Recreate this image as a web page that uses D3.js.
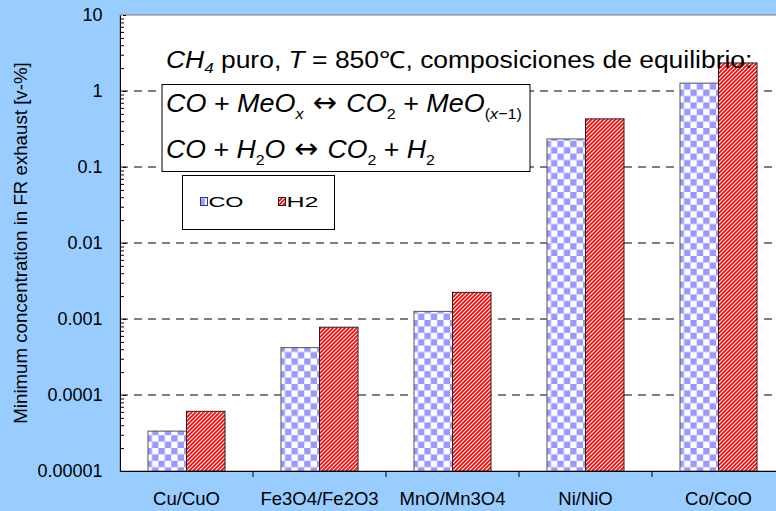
<!DOCTYPE html>
<html>
<head>
<meta charset="utf-8">
<script src="https://cdn.jsdelivr.net/npm/d3@7"></script>
<style>
  html, body { margin: 0; padding: 0; background: #99CCFF; overflow: hidden; }
  svg { display: block; font-family: Arial, "Liberation Sans", sans-serif; }
</style>
</head>
<body>
<svg id="chart" width="776" height="511"></svg>
<script>
// ---- data ----
const categories = ["Cu/CuO", "Fe3O4/Fe2O3", "MnO/Mn3O4", "Ni/NiO", "Co/CoO"];
const seriesNames = ["CO", "H2"];
const coValues = [3.35e-5, 4.2e-4, 1.26e-3, 0.234, 1.27];
const h2Values = [6.1e-5, 7.8e-4, 2.24e-3, 0.43, 2.34];
const yTickValues = [1e-5, 1e-4, 1e-3, 1e-2, 1e-1, 1, 10];
const yTickLabels = ["0.00001", "0.0001", "0.001", "0.01", "0.1", "1", "10"];
const gridValues = [1e-4, 1e-3, 1e-2, 1e-1, 1];

const FONT = "Arial, 'Liberation Sans', sans-serif";
const plot = { left: 120, top: 15, right: 785, bottom: 471 };

const svg = d3.select("#chart");
const defs = svg.append("defs");

// checker pattern (CO)
const chk = defs.append("pattern").attr("id", "checker")
  .attr("patternUnits", "userSpaceOnUse").attr("width", 12.8).attr("height", 12.8);
chk.append("rect").attr("width", 12.8).attr("height", 12.8).attr("fill", "#ffffff");
chk.append("rect").attr("width", 6.4).attr("height", 6.4).attr("fill", "#9999FF");
chk.append("rect").attr("x", 6.4).attr("y", 6.4).attr("width", 6.4).attr("height", 6.4).attr("fill", "#9999FF");

// diagonal stripes (H2)
const str = defs.append("pattern").attr("id", "stripes")
  .attr("patternUnits", "userSpaceOnUse").attr("width", 4).attr("height", 4);
str.append("rect").attr("width", 4).attr("height", 4).attr("fill", "#ffffff");
str.append("path").attr("d", "M-1,1 l2,-2 M0,4 l4,-4 M3,5 l2,-2")
  .attr("stroke", "#ff0000").attr("stroke-width", 1.7);

const fills = { CO: "url(#checker)", H2: "url(#stripes)" };
const strokes = { CO: "#555555", H2: "#222222" };

// plot background
svg.append("rect").attr("x", plot.left).attr("y", plot.top)
  .attr("width", plot.right - plot.left).attr("height", plot.bottom - plot.top)
  .attr("fill", "#ffffff").attr("stroke", "#808080").attr("stroke-width", 1);

// scales
const x0 = d3.scaleBand().domain(categories).range([plot.left, plot.right]).padding(0);
const x1 = d3.scaleBand().domain(seriesNames).range([0, x0.bandwidth()])
  .paddingInner(0).paddingOuter(0.727);
const y = d3.scaleLog().domain([1e-5, 10]).range([plot.bottom, plot.top]);

// gridlines
svg.append("g").selectAll("line").data(gridValues).join("line")
  .attr("x1", plot.left).attr("x2", plot.right)
  .attr("y1", d => y(d)).attr("y2", d => y(d))
  .attr("stroke", "#000").attr("stroke-width", 1).attr("stroke-dasharray", "8,6");

// bars
const rows = categories.map((c, i) => ({ cat: c, values: [
  { s: "CO", v: coValues[i] }, { s: "H2", v: h2Values[i] }] }));
const grp = svg.append("g").selectAll("g").data(rows).join("g")
  .attr("transform", d => `translate(${x0(d.cat)},0)`);
grp.selectAll("rect").data(d => d.values).join("rect")
  .attr("x", d => x1(d.s)).attr("width", x1.bandwidth())
  .attr("y", d => y(d.v)).attr("height", d => plot.bottom - y(d.v))
  .attr("fill", d => fills[d.s]).attr("stroke", d => strokes[d.s]).attr("stroke-width", 1);

// y axis
const minorVals = [];
for (let e = -5; e < 1; e++) for (let m = 2; m <= 9; m++) minorVals.push(m * Math.pow(10, e));
const yMinor = svg.append("g").attr("transform", `translate(${plot.left},0)`)
  .call(d3.axisLeft(y).tickValues(minorVals).tickSizeInner(-4).tickSizeOuter(0).tickFormat(""));
yMinor.select(".domain").remove();
yMinor.selectAll("line").attr("stroke", "#000");
const yAxis = svg.append("g").attr("transform", `translate(${plot.left},0)`)
  .call(d3.axisLeft(y).tickValues(yTickValues).tickSizeInner(-6).tickSizeOuter(0)
    .tickPadding(17.5).tickFormat((d, i) => yTickLabels[i]));
yAxis.selectAll(".tick line").attr("x1", 3).attr("stroke", "#000");
yAxis.select(".domain").attr("stroke", "#000");
yAxis.selectAll("text").attr("font-size", 18).attr("font-family", FONT).attr("fill", "#000");

// x axis
const xAxis = svg.append("g").attr("transform", `translate(0,${plot.bottom})`)
  .call(d3.axisBottom(x0).tickSize(0).tickPadding(21));
xAxis.select(".domain").attr("stroke", "#000");
xAxis.selectAll("text").attr("font-size", 18.5).attr("font-family", FONT).attr("fill", "#000");
svg.append("g").selectAll("line").data(categories.slice(1)).join("line")
  .attr("x1", d => x0(d)).attr("x2", d => x0(d))
  .attr("y1", plot.bottom).attr("y2", plot.bottom + 6).attr("stroke", "#000");

// y axis title
svg.append("text").attr("transform", `translate(27,${(plot.top + plot.bottom) / 2}) rotate(-90)`)
  .attr("text-anchor", "middle").attr("font-size", 18.7).attr("fill", "#000")
  .text("Minimum concentration in FR exhaust [v-%]");

// helper: stretch a text horizontally to a given width from its start x
function fitWidth(sel, x, target) {
  const w = sel.node().getBBox().width;
  if (w > 0) sel.attr("transform", `translate(${x},0) scale(${target / w},1) translate(${-x},0)`);
}

// title
const t = svg.append("text").attr("x", 166).attr("y", 68).attr("font-size", 23.5).attr("fill", "#000");
t.append("tspan").attr("font-style", "italic").text("CH");
t.append("tspan").attr("font-style", "italic").attr("font-size", 15).attr("dy", 5).text("4");
t.append("tspan").attr("dy", -5).text(" puro, ");
t.append("tspan").attr("font-style", "italic").text("T");
t.append("tspan").text(" = 850\u2103, composiciones de equilibrio:");
fitWidth(t, 166, 586);

// equation box
svg.append("rect").attr("x", 162).attr("y", 84.5).attr("width", 368).attr("height", 87)
  .attr("fill", "#fff").attr("stroke", "#000").attr("stroke-width", 1);

function eq(yb, parts, target) {
  const e = svg.append("text").attr("x", 166).attr("y", yb).attr("font-size", 26).attr("fill", "#000");
  let cur = 0;
  parts.forEach(p => {
    const ts = e.append("tspan").text(p.t);
    if (p.i) ts.attr("font-style", "italic");
    if (p.a) ts.attr("font-family", "'DejaVu Sans', sans-serif").attr("font-size", 28);
    const target = p.s ? 7 : 0;
    if (p.s) ts.attr("font-size", 15.5);
    if (target !== cur) { ts.attr("dy", target - cur); cur = target; }
  });
  fitWidth(e, 166, target);
}
eq(112, [
  { t: "CO", i: 1 }, { t: " + " }, { t: "MeO", i: 1 }, { t: "x", i: 1, s: 1 },
  { t: " \u2194 ", a: 1 }, { t: "CO", i: 1 }, { t: "2", s: 1 }, { t: " + " },
  { t: "MeO", i: 1 }, { t: "(", s: 1 }, { t: "x", i: 1, s: 1 }, { t: "\u22121)", s: 1 }
], 356);
eq(158, [
  { t: "CO", i: 1 }, { t: " + " }, { t: "H", i: 1 }, { t: "2", s: 1 }, { t: "O", i: 1 },
  { t: " \u2194 ", a: 1 }, { t: "CO", i: 1 }, { t: "2", s: 1 }, { t: " + " },
  { t: "H", i: 1 }, { t: "2", s: 1 }
], 269);

// legend
const lg = svg.append("g");
lg.append("rect").attr("x", 182.5).attr("y", 175.5).attr("width", 152).attr("height", 54)
  .attr("fill", "#fff").attr("stroke", "#000").attr("stroke-width", 1);
const legX = [200, 278];
const legW = [35, 32];
seriesNames.forEach((s, i) => {
  lg.append("rect").attr("x", legX[i] + 0.5).attr("y", 197.5).attr("width", 7).attr("height", 8)
    .attr("fill", fills[s]).attr("stroke", s === "CO" ? "#333399" : "#222").attr("stroke-width", 1);
  const tx = lg.append("text").attr("x", legX[i] + 8.5).attr("y", 207.5).attr("font-size", 15)
    .attr("fill", "#000").text(s);
  fitWidth(tx, legX[i] + 8.5, legW[i]);
});
</script>
</body>
</html>
